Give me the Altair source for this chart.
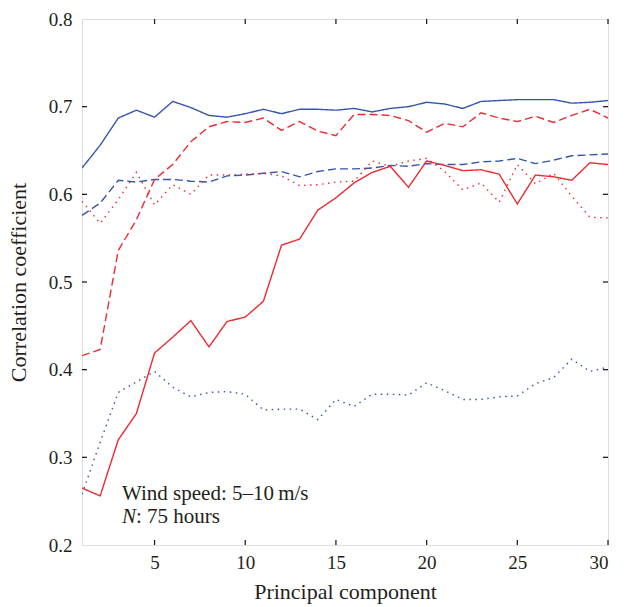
import altair as alt
import pandas as pd

components = list(range(1, 31))

blue_solid = [0.630, 0.656, 0.687, 0.696, 0.688, 0.706, 0.699, 0.690, 0.688, 0.692,
              0.697, 0.692, 0.697, 0.697, 0.696, 0.698, 0.694, 0.698, 0.700, 0.705,
              0.703, 0.698, 0.706, 0.707, 0.708, 0.708, 0.708, 0.704, 0.705, 0.707]
blue_dashed = [0.576, 0.590, 0.616, 0.614, 0.617, 0.617, 0.615, 0.614, 0.621, 0.622,
               0.624, 0.626, 0.620, 0.626, 0.629, 0.629, 0.630, 0.633, 0.632, 0.635,
               0.634, 0.634, 0.637, 0.638, 0.641, 0.635, 0.639, 0.644, 0.645, 0.646]
blue_dotted = [0.258, 0.317, 0.374, 0.386, 0.398, 0.380, 0.369, 0.374, 0.375, 0.372,
               0.354, 0.355, 0.355, 0.343, 0.366, 0.358, 0.372, 0.372, 0.371, 0.385,
               0.376, 0.366, 0.366, 0.369, 0.370, 0.384, 0.391, 0.412, 0.398, 0.403]
red_solid = [0.265, 0.256, 0.320, 0.350, 0.419, 0.437, 0.456, 0.426, 0.455, 0.460,
             0.478, 0.542, 0.549, 0.582, 0.596, 0.613, 0.625, 0.632, 0.608, 0.638,
             0.633, 0.627, 0.628, 0.623, 0.589, 0.622, 0.620, 0.616, 0.636, 0.634]
red_dashed = [0.416, 0.423, 0.536, 0.571, 0.617, 0.634, 0.660, 0.677, 0.683, 0.682,
              0.687, 0.673, 0.683, 0.672, 0.667, 0.691, 0.691, 0.690, 0.684, 0.671,
              0.681, 0.677, 0.693, 0.687, 0.683, 0.689, 0.682, 0.690, 0.697, 0.687]
red_dotted = [0.592, 0.567, 0.594, 0.625, 0.588, 0.611, 0.600, 0.622, 0.622, 0.623,
              0.624, 0.621, 0.610, 0.611, 0.614, 0.615, 0.638, 0.632, 0.638, 0.641,
              0.626, 0.605, 0.613, 0.591, 0.634, 0.612, 0.624, 0.598, 0.574, 0.573]

series_names = ["blue solid", "blue dashed", "blue dotted",
                "red solid", "red dashed", "red dotted"]
series_values = [blue_solid, blue_dashed, blue_dotted, red_solid, red_dashed, red_dotted]
BLUE = "#3656ad"
RED = "#ee2a31"
series_colors = [BLUE, BLUE, BLUE, RED, RED, RED]
series_dashes = [[1, 0], [8, 4], [1.5, 4.5], [1, 0], [8, 4], [1.5, 4.5]]

x_ticks = [5, 10, 15, 20, 25, 30]
y_ticks = [0.2, 0.3, 0.4, 0.5, 0.6, 0.7, 0.8]
x_title = "Principal component"
y_title = "Correlation coefficient"
note_line1 = "Wind speed: 5\u201310\u2009m/s"
note_n = "N"
note_line2 = ": 75 hours"

rows = []
for name, vals in zip(series_names, series_values):
    for c, v in zip(components, vals):
        rows.append({"component": c, "value": v, "series": name})
df = pd.DataFrame(rows)

W, H = 526, 526
FONT = "Liberation Serif"
TXT = "#231f20"
x_scale = alt.Scale(domain=[1, 30], nice=False, zero=False)
y_scale = alt.Scale(domain=[0.2, 0.8], nice=False, zero=False)

x_axis = alt.Axis(values=x_ticks, title=x_title, domain=False, ticks=False,
                  grid=False, labelPadding=8, titlePadding=9,
                  labelFontSize=19, titleFontSize=22, titleFontWeight="normal",
                  labelFont=FONT, titleFont=FONT, labelColor=TXT, titleColor=TXT)
y_axis = alt.Axis(values=y_ticks, title=y_title, domain=False, ticks=False,
                  grid=False, labelPadding=10, titlePadding=18, format=".1f",
                  labelFontSize=19, titleFontSize=22, titleFontWeight="normal",
                  labelFont=FONT, titleFont=FONT, labelColor=TXT, titleColor=TXT)

lines = alt.Chart(df).mark_line(strokeWidth=1.4, clip=True).encode(
    x=alt.X("component:Q", scale=x_scale, axis=x_axis),
    y=alt.Y("value:Q", scale=y_scale, axis=y_axis),
    color=alt.Color("series:N", scale=alt.Scale(domain=series_names, range=series_colors),
                    legend=None),
    strokeDash=alt.StrokeDash("series:N",
                              scale=alt.Scale(domain=series_names, range=series_dashes),
                              legend=None),
)

xt = pd.DataFrame({"component": x_ticks})
yt = pd.DataFrame({"value": y_ticks[1:-1]})
TL = 5
tick_style = dict(color="#231f20", strokeWidth=1.3)
bottom_ticks = alt.Chart(xt).mark_rule(**tick_style).encode(
    x=alt.X("component:Q", scale=x_scale, axis=x_axis), y=alt.value(H), y2=alt.value(H - TL))
top_ticks = alt.Chart(xt).mark_rule(**tick_style).encode(
    x=alt.X("component:Q", scale=x_scale, axis=x_axis), y=alt.value(0), y2=alt.value(TL))
left_ticks = alt.Chart(yt).mark_rule(**tick_style).encode(
    y=alt.Y("value:Q", scale=y_scale, axis=y_axis), x=alt.value(0), x2=alt.value(TL))
right_ticks = alt.Chart(yt).mark_rule(**tick_style).encode(
    y=alt.Y("value:Q", scale=y_scale, axis=y_axis), x=alt.value(W - TL), x2=alt.value(W))

note1 = alt.Chart(pd.DataFrame({"t": [note_line1]})).mark_text(
    align="left", baseline="alphabetic", font=FONT, fontSize=21, color=TXT
).encode(text="t:N", x=alt.value(40), y=alt.value(481))
note2a = alt.Chart(pd.DataFrame({"t": [note_n]})).mark_text(
    align="left", baseline="alphabetic", font=FONT, fontSize=21, color=TXT,
    fontStyle="italic"
).encode(text="t:N", x=alt.value(40), y=alt.value(504))
note2b = alt.Chart(pd.DataFrame({"t": [note_line2]})).mark_text(
    align="left", baseline="alphabetic", font=FONT, fontSize=21, color=TXT
).encode(text="t:N", x=alt.value(54), y=alt.value(504))

chart = alt.layer(
    lines, bottom_ticks, top_ticks, left_ticks, right_ticks, note1, note2a, note2b
).properties(
    width=W, height=H,
    autosize=alt.AutoSizeParams(type="none"),
    padding={"left": 82, "top": 19, "right": 19, "bottom": 62},
).configure_view(
    stroke="#231f20", strokeWidth=1.4
).configure(background="white")

chart.save("out.html", embed_options={"renderer": "svg", "actions": False})
